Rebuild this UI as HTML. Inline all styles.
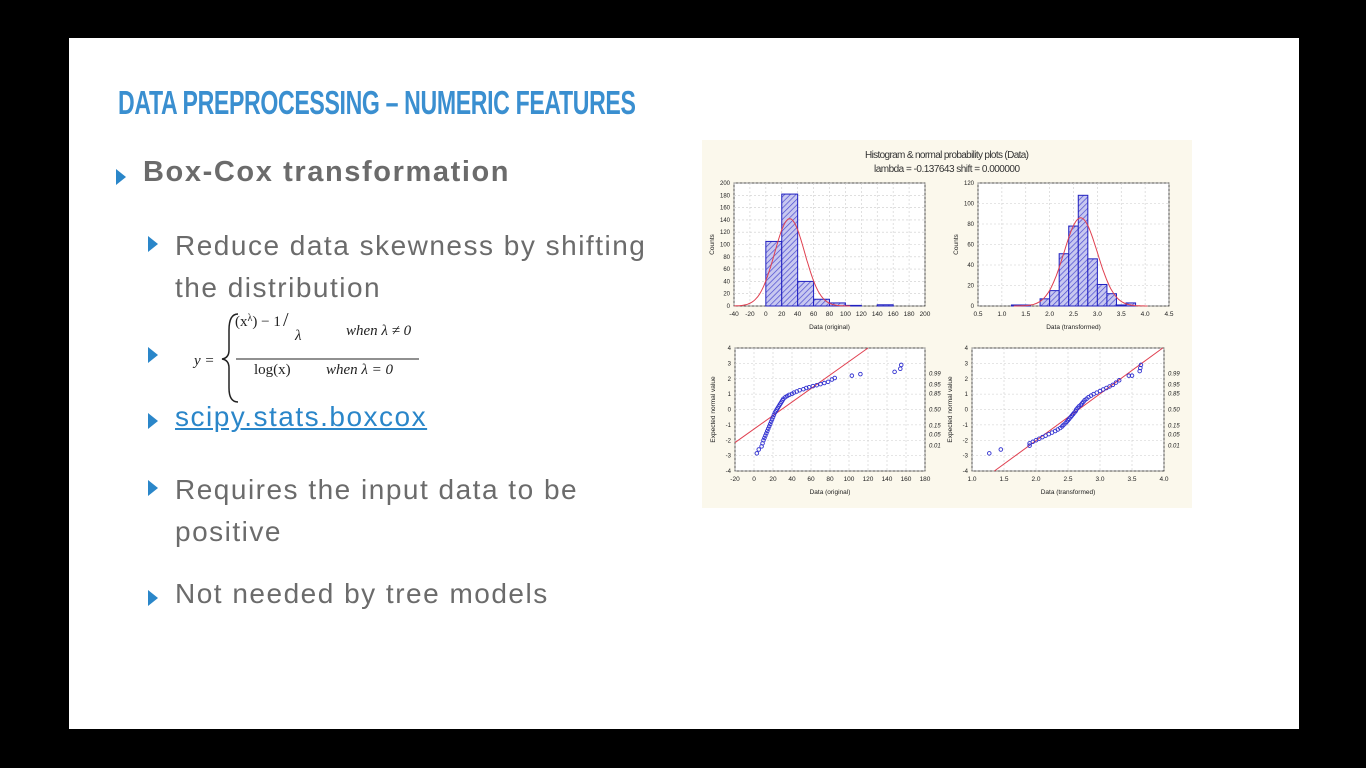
<!DOCTYPE html>
<html><head><meta charset="utf-8"><style>
body{margin:0;width:1366px;height:768px;background:#000;overflow:hidden;font-family:"Liberation Sans",sans-serif}
#slide{position:absolute;left:69px;top:38px;width:1230px;height:691px;background:#fff}
.t{position:absolute;white-space:nowrap;color:#6b6b6b}
.tri{position:absolute;width:0;height:0;border-top:8px solid transparent;border-bottom:8px solid transparent;border-left:10px solid #2a86c9}
#title{left:118px;top:84px;font-weight:bold;font-size:33px;color:#3a8fd0;letter-spacing:-0.5px;transform:scaleX(0.70);transform-origin:0 0}
.b1{font-size:29px;font-weight:bold;letter-spacing:1.6px}
.b2{font-size:28px;letter-spacing:1.5px}
svg{position:absolute;left:0;top:0}
</style></head><body>
<div id="slide"></div>
<div class="t" id="title">DATA PREPROCESSING – NUMERIC FEATURES</div>
<div class="tri" style="left:116px;top:169px"></div>
<div class="t b1" style="left:143px;top:156px">Box-Cox transformation</div>
<div class="tri" style="left:148px;top:236px"></div>
<div class="t b2" style="left:175px;top:225px;line-height:42px">Reduce data skewness by shifting<br>the distribution</div>
<div class="tri" style="left:148px;top:347px"></div>
<div class="tri" style="left:148px;top:413px"></div>
<div class="t b2" style="left:175px;top:401px;color:#2a86c9;text-decoration:underline">scipy.stats.boxcox</div>
<div class="tri" style="left:148px;top:480px"></div>
<div class="t b2" style="left:175px;top:469px;line-height:42px">Requires the input data to be<br>positive</div>
<div class="tri" style="left:148px;top:590px"></div>
<div class="t b2" style="left:175px;top:578px">Not needed by tree models</div>
<svg width="1366" height="768" id="svg" font-family="Liberation Serif, serif">
<g font-style="italic" font-size="15" fill="#222">
<text x="194" y="365">y =</text>
<path d="M238 314 Q229 314 229 330 L229 350 Q229 358 222 359 Q229 360 229 368 L229 388 Q229 402 238 402" fill="none" stroke="#222" stroke-width="1.5"/>
<text x="235" y="326" font-style="normal">(x<tspan font-size="10" dy="-5">λ</tspan><tspan dy="5">) − 1</tspan></text>
<text x="283" y="326" font-style="normal" font-size="20">/</text><text x="295" y="340">λ</text>
<text x="346" y="335">when λ ≠ 0</text>
<line x1="236" y1="359" x2="419" y2="359" stroke="#222" stroke-width="1"/>
<text x="254" y="374" font-style="normal">log(x)</text>
<text x="326" y="374">when λ = 0</text>
</g>
<rect x="702" y="140" width="490" height="368" fill="#fbf8ec"/>
<text x="947" y="158" font-family="Liberation Sans, sans-serif" font-size="10" text-anchor="middle" fill="#333" textLength="164">Histogram &amp; normal probability plots (Data)</text>
<text x="947" y="172" font-family="Liberation Sans, sans-serif" font-size="10" text-anchor="middle" fill="#333" textLength="146">lambda = -0.137643 shift = 0.000000</text>
<defs><pattern id="hatch" width="4" height="4" patternUnits="userSpaceOnUse" patternTransform="rotate(45)"><rect width="4" height="4" fill="#c8c8f0"/><line x1="0" y1="0" x2="0" y2="4" stroke="#4a4ad0" stroke-width="1.4"/></pattern></defs>
<g id="charts"></g>
</svg>
<script>
// Histogram original
const h1Edges=[0,20,40,60,80,100,120,140];
const h1Counts=[105,182,40,11,5,1,0,2];
const h1Mean=30, h1Sd=19, h1Peak=142;
// Histogram transformed
const h2Edges=[1.2,1.4,1.6,1.8,2.0,2.2,2.4,2.6,2.8,3.0,3.2,3.4,3.6];
const h2Counts=[1,1,0,7,15,51,78,108,46,21,12,1,3];
const h2Mean=2.65, h2Sd=0.35, h2Peak=86;
// QQ original
const q1X=[3,5,8,9,10,11,12,13,14,15,16,17,18,19,20,21,22,23,24,25,26,27,28,29,30,31,33,35,37,40,42,45,48,52,55,58,62,66,70,74,78,82,85,103,112,148,154,155];
const q1Z=[-2.85,-2.6,-2.4,-2.2,-2,-1.85,-1.7,-1.55,-1.4,-1.25,-1.1,-0.95,-0.8,-0.65,-0.5,-0.35,-0.2,-0.1,0,0.1,0.2,0.3,0.4,0.5,0.6,0.7,0.8,0.88,0.95,1.02,1.1,1.17,1.25,1.32,1.4,1.45,1.52,1.58,1.65,1.72,1.8,1.95,2.05,2.2,2.3,2.45,2.65,2.9];
const q1Line=[[-20,-2.15],[120,4]];
// QQ transformed
const q2X=[1.27,1.45,1.9,1.9,1.95,2.0,2.05,2.1,2.15,2.2,2.25,2.3,2.34,2.38,2.41,2.43,2.46,2.48,2.5,2.52,2.54,2.56,2.58,2.6,2.62,2.63,2.65,2.67,2.7,2.72,2.74,2.76,2.79,2.82,2.86,2.9,2.95,3.0,3.05,3.1,3.15,3.2,3.25,3.3,3.45,3.5,3.62,3.63,3.64];
const q2Z=[-2.85,-2.6,-2.35,-2.2,-2.1,-2.0,-1.9,-1.8,-1.7,-1.6,-1.5,-1.4,-1.3,-1.2,-1.1,-1,-0.9,-0.8,-0.7,-0.6,-0.5,-0.4,-0.3,-0.2,-0.1,0,0.1,0.2,0.3,0.4,0.5,0.6,0.7,0.8,0.9,1.0,1.1,1.2,1.3,1.4,1.5,1.6,1.75,1.9,2.2,2.2,2.5,2.7,2.9];
const q2Line=[[1.35,-4],[3.98,4]];
const h1XTicks=[-40,-20,0,20,40,60,80,100,120,140,160,180,200], h1YTicks=[0,20,40,60,80,100,120,140,160,180,200];
const h2XTicks=[0.5,1.0,1.5,2.0,2.5,3.0,3.5,4.0,4.5], h2YTicks=[0,20,40,60,80,100,120];
const q1XTicks=[-20,0,20,40,60,80,100,120,140,160,180], qYTicks=[-4,-3,-2,-1,0,1,2,3,4];
const q2XTicks=[1.0,1.5,2.0,2.5,3.0,3.5,4.0];
const probLabels=['0.99','0.95','0.85','0.50','0.15','0.05','0.01'], probZ=[2.33,1.64,1.04,0,-1.04,-1.64,-2.33];
const NS='http://www.w3.org/2000/svg', G=document.getElementById('charts');
function mk(t,a,p){const e=document.createElementNS(NS,t);for(const k in a)e.setAttribute(k,a[k]);(p||G).appendChild(e);return e;}
function panel(name,L,R,T,B,xmin,xmax,ymin,ymax,xt,yt,xl,yl,fmt){
 const g=mk('g',{});
 const sx=v=>L+(v-xmin)/(xmax-xmin)*(R-L), sy=v=>B-(v-ymin)/(ymax-ymin)*(B-T);
 mk('rect',{x:L,y:T,width:R-L,height:B-T,fill:'#fff',stroke:'#222','stroke-width':0.8},g);
 xt.forEach(v=>{mk('line',{x1:sx(v),x2:sx(v),y1:T,y2:B,stroke:'#ccc','stroke-dasharray':'2,2','stroke-width':0.6},g);
  const t=mk('text',{x:sx(v),y:B+10,'font-size':6.5,'text-anchor':'middle',fill:'#222','font-family':'Liberation Sans, sans-serif'},g);t.textContent=fmt?v.toFixed(1):v;});
 yt.forEach(v=>{mk('line',{x1:L,x2:R,y1:sy(v),y2:sy(v),stroke:'#ccc','stroke-dasharray':'2,2','stroke-width':0.6},g);
  const t=mk('text',{x:L-4,y:sy(v)+2,'font-size':6,'text-anchor':'end',fill:'#222','font-family':'Liberation Sans, sans-serif'},g);t.textContent=v;});
 const a=mk('text',{x:(L+R)/2,y:B+23,'font-size':6.5,'text-anchor':'middle',fill:'#222','font-family':'Liberation Sans, sans-serif'},g);a.textContent=xl;
 const b=mk('text',{x:L-20,y:(T+B)/2,'font-size':6.5,'text-anchor':'middle',fill:'#222',transform:`rotate(-90 ${L-20} ${(T+B)/2})`,'font-family':'Liberation Sans, sans-serif'},g);b.textContent=yl;
 return {g,sx,sy};
}
function hist(name,L,R,T,B,xmin,xmax,ymax,edges,counts,mean,sd,peak,xt,yt,xl,fmt){
 const p=panel(name,L,R,T,B,xmin,xmax,0,ymax,xt,yt,xl,'Counts',fmt);
 counts.forEach((c,i)=>{const r=mk('rect',{x:p.sx(edges[i]),y:p.sy(c),width:p.sx(edges[i]+(edges[1]-edges[0]))-p.sx(edges[i]),height:p.sy(0)-p.sy(c),fill:'url(#hatch)',stroke:'#2020c0','stroke-width':1},p.g);
  });
 let d='';for(let k=0;k<=120;k++){const x=mean-4*sd+k*8*sd/120;if(x<xmin||x>xmax)continue;const y=peak*Math.exp(-0.5*((x-mean)/sd)**2);d+=(d?'L':'M')+p.sx(x).toFixed(1)+' '+p.sy(y).toFixed(1);}
 const c=mk('path',{d,fill:'none',stroke:'#e04050','stroke-width':1},p.g);
}
function qq(name,L,R,T,B,xmin,xmax,xs,zs,line,xt,xl,fmt){
 const p=panel(name,L,R,T,B,xmin,xmax,-4,4,xt,qYTicks,xl,'Expected normal value',fmt);
 const l=mk('line',{x1:p.sx(line[0][0]),y1:p.sy(line[0][1]),x2:p.sx(line[1][0]),y2:p.sy(line[1][1]),stroke:'#e04050','stroke-width':1},p.g);
 
 xs.forEach((x,i)=>{const c=mk('circle',{cx:p.sx(x),cy:p.sy(zs[i]),r:1.8,fill:'none',stroke:'#3030d0','stroke-width':0.9},p.g);
  });
 probLabels.forEach((s,i)=>{const t=mk('text',{x:R+4,y:p.sy(probZ[i])+2,'font-size':6,fill:'#222','font-style':'italic','font-family':'Liberation Sans, sans-serif'},p.g);t.textContent=s;});
}
hist('histogram-original',734,925,183,306,-40,200,200,h1Edges,h1Counts,h1Mean,h1Sd,h1Peak,h1XTicks,h1YTicks,'Data (original)',false);
hist('histogram-transformed',978,1169,183,306,0.5,4.5,120,h2Edges,h2Counts,h2Mean,h2Sd,h2Peak,h2XTicks,h2YTicks,'Data (transformed)',true);
qq('qq-original',735,925,348,471,-20,180,q1X,q1Z,q1Line,q1XTicks,'Data (original)',false);
qq('qq-transformed',972,1164,348,471,1.0,4.0,q2X,q2Z,q2Line,q2XTicks,'Data (transformed)',true);
</script>
</body></html>
